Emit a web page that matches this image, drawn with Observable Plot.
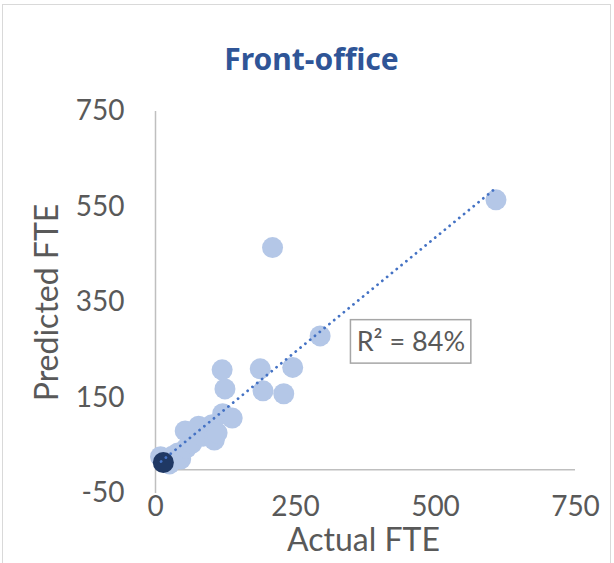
<!DOCTYPE html>
<html>
<head>
<meta charset="utf-8">
<script src="https://cdn.jsdelivr.net/npm/d3@7"></script>
<script src="https://cdn.jsdelivr.net/npm/@observablehq/plot@0.6"></script>
<style>
  html, body { margin: 0; padding: 0; background: #fff; }
  #wrap { position: relative; width: 614px; height: 563px; overflow: hidden; }
  #border { position: absolute; left: 2px; top: 4px; width: 609px; height: 600px; border: 1.5px solid #d9d9d9; box-sizing: border-box; }
  #chart { position: absolute; left: 0; top: 0; }
</style>
</head>
<body>
<div id="wrap"><div id="border"></div><div id="chart"></div></div>
<script>
// Data
const title = "Front-office";
const xLabel = "Actual FTE";
const yLabel = "Predicted FTE";
const r2Label = "R² = 84%";

const actualFTE    = [9, 25, 30, 40, 45, 55, 53, 65, 77, 85, 101, 105, 110, 120, 137, 119, 124, 187, 192, 229, 245, 294, 209, 608];
const predictedFTE = [27, 12, 28, 35, 22, 45, 81, 55, 91, 70, 94, 62, 77, 117, 108, 209, 169, 211, 165, 159, 214, 280, 465, 565];

const highlightActual = [14];
const highlightPredicted = [15];

const trendActual = [10, 605];
const trendPredicted = [17, 587];

const xTicks = [0, 250, 500, 750];
const yTicks = [-50, 150, 350, 550, 750];

const points = actualFTE.map((x, i) => ({x, y: predictedFTE[i]}));
const highlight = highlightActual.map((x, i) => ({x, y: highlightPredicted[i]}));
const trend = trendActual.map((x, i) => ({x, y: trendPredicted[i]}));

const font = "Lato, 'Open Sans', sans-serif";
const grey = "#595959";

const chart = Plot.plot({
  width: 614,
  height: 563,
  marginLeft: 155,
  marginRight: 39,
  marginTop: 111,
  marginBottom: 70,
  style: { fontFamily: font, background: "transparent", overflow: "visible" },
  x: { domain: [0, 750] },
  y: { domain: [-50, 750] },
  marks: [
    Plot.ruleX([0], { stroke: "#bfbfbf", strokeWidth: 1.5 }),
    Plot.ruleY([0], { stroke: "#bfbfbf", strokeWidth: 1.5 }),
    Plot.dot(points, { x: "x", y: "y", r: 10.5, fill: "#b4c7e7", stroke: "none" }),
    Plot.dot(highlight, { x: "x", y: "y", r: 10.5, fill: "#1f3864", stroke: "none" }),
    Plot.line(trend, { x: "x", y: "y", stroke: "#4472c4", strokeWidth: 2.8, strokeDasharray: "0.01 6.2", strokeLinecap: "round" }),
    Plot.rect([0], { x1: 349, x2: 564, y1: 222, y2: 313, fill: "white", stroke: "#a6a6a6", strokeWidth: 1.5 }),
    Plot.text([r2Label], { x: 456, y: 267.5, text: d => d, fontSize: 27, fill: grey, lineAnchor: "middle" }),
    Plot.axisX(xTicks, { tickSize: 0, tickPadding: 3, fontSize: 28, color: grey, label: null, tickFormat: d => String(d) }),
    Plot.axisY(yTicks, { tickSize: 0, tickPadding: 31, fontSize: 28, color: grey, label: null, tickFormat: d => String(d) }),
    Plot.text([title], { frameAnchor: "top", dx: -54, dy: -51, lineAnchor: "middle", textAnchor: "middle", text: d => d, fontSize: 30, fontWeight: "bold", fill: "#2f5597", fontFamily: "'Noto Sans', sans-serif" }),
    Plot.text([yLabel], { frameAnchor: "left", dx: -108, dy: 0, rotate: -90, lineAnchor: "middle", textAnchor: "middle", text: d => d, fontSize: 32, fill: grey }),
    Plot.text([xLabel], { frameAnchor: "bottom", dx: -2, dy: 47, lineAnchor: "middle", textAnchor: "middle", text: d => d, fontSize: 32, fill: grey })
  ]
});
document.getElementById("chart").appendChild(chart);
</script>
</body>
</html>
